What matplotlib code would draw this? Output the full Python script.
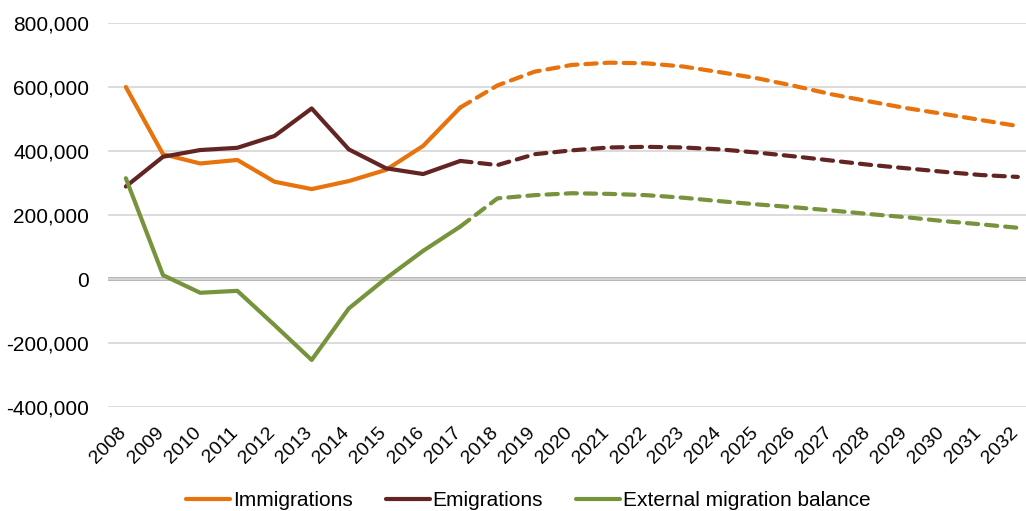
import matplotlib
matplotlib.use("Agg")
import matplotlib.pyplot as plt
from matplotlib.ticker import FuncFormatter
from matplotlib.transforms import ScaledTranslation

plt.rcParams['font.family'] = ['Liberation Sans', 'DejaVu Sans']

years = list(range(2008, 2033))
immigrations = [600000, 390000, 361000, 372000, 304000, 281000, 306000, 341000, 416000, 536000,
                605000, 648000, 669000, 676000, 674000, 664000, 646000, 627000, 603000, 577000,
                555000, 534000, 516000, 497000, 478000]
emigrations = [289000, 382000, 403000, 410000, 447000, 533000, 405000, 346000, 328000, 369000,
               356000, 390000, 402000, 411000, 413000, 411000, 405000, 395000, 383000, 370000,
               357000, 346000, 335000, 325000, 319000]
balance = [315000, 12000, -43000, -37000, -144000, -253000, -92000, 2000, 88000, 164000,
           252000, 262000, 268000, 266000, 262000, 254000, 243000, 233000, 224000, 214000,
           203000, 193000, 181000, 171000, 160000]
labels = ["Immigrations", "Emigrations", "External migration balance"]
colors = ["#E8720C", "#632523", "#77933C"]
last_actual = 2017

fig = plt.figure(figsize=(10.26, 5.11), dpi=100)
ax = fig.add_axes([108/1026, (511-407)/511, 1 - 108/1026, (407-23)/511])

split = years.index(last_actual)
lw = 3.0
for series, lab, c in zip([immigrations, emigrations, balance], labels, colors):
    ax.plot(years[:split+1], series[:split+1], color=c, lw=lw, label=lab,
            solid_capstyle='round', solid_joinstyle='round', zorder=3)
    ax.plot(years[split:], series[split:], color=c, lw=lw, dashes=(2.7, 1.9),
            dash_capstyle='round', zorder=3)

ax.set_ylim(-400000, 800000)
ax.set_yticks(range(-400000, 800001, 200000))
ax.yaxis.set_major_formatter(FuncFormatter(lambda v, p: f"{int(v):,}"))
ax.grid(axis='y', color='#d9d9d9', lw=1.3, zorder=0)
ax.axhline(0, color='#a6a6a6', lw=2.6, zorder=1)
ax.set_xlim(2008 - 0.48, 2032 + 0.22)
ax.set_xticks(years)
ax.set_xticklabels([])
lab_tr = ax.get_xaxis_transform() + ScaledTranslation(-8/100, -17/100, fig.dpi_scale_trans)
for y in years:
    ax.text(y, 0, str(y), transform=lab_tr, rotation=45, ha='right', va='top',
            rotation_mode='anchor', fontsize=14, color='black', clip_on=False)
for s in ax.spines.values():
    s.set_visible(False)
ax.tick_params(axis='y', length=0, labelsize=15, colors='black', pad=13.5)
ax.tick_params(axis='x', length=0)

handles, labs = ax.get_legend_handles_labels()
fig.legend(handles, labs, loc='lower center', bbox_to_anchor=(0.515, -0.035), ncol=3,
           frameon=False, fontsize=15, handlelength=2.1, handletextpad=0.15,
           columnspacing=1.6)

fig.savefig("out.png", dpi=100)
